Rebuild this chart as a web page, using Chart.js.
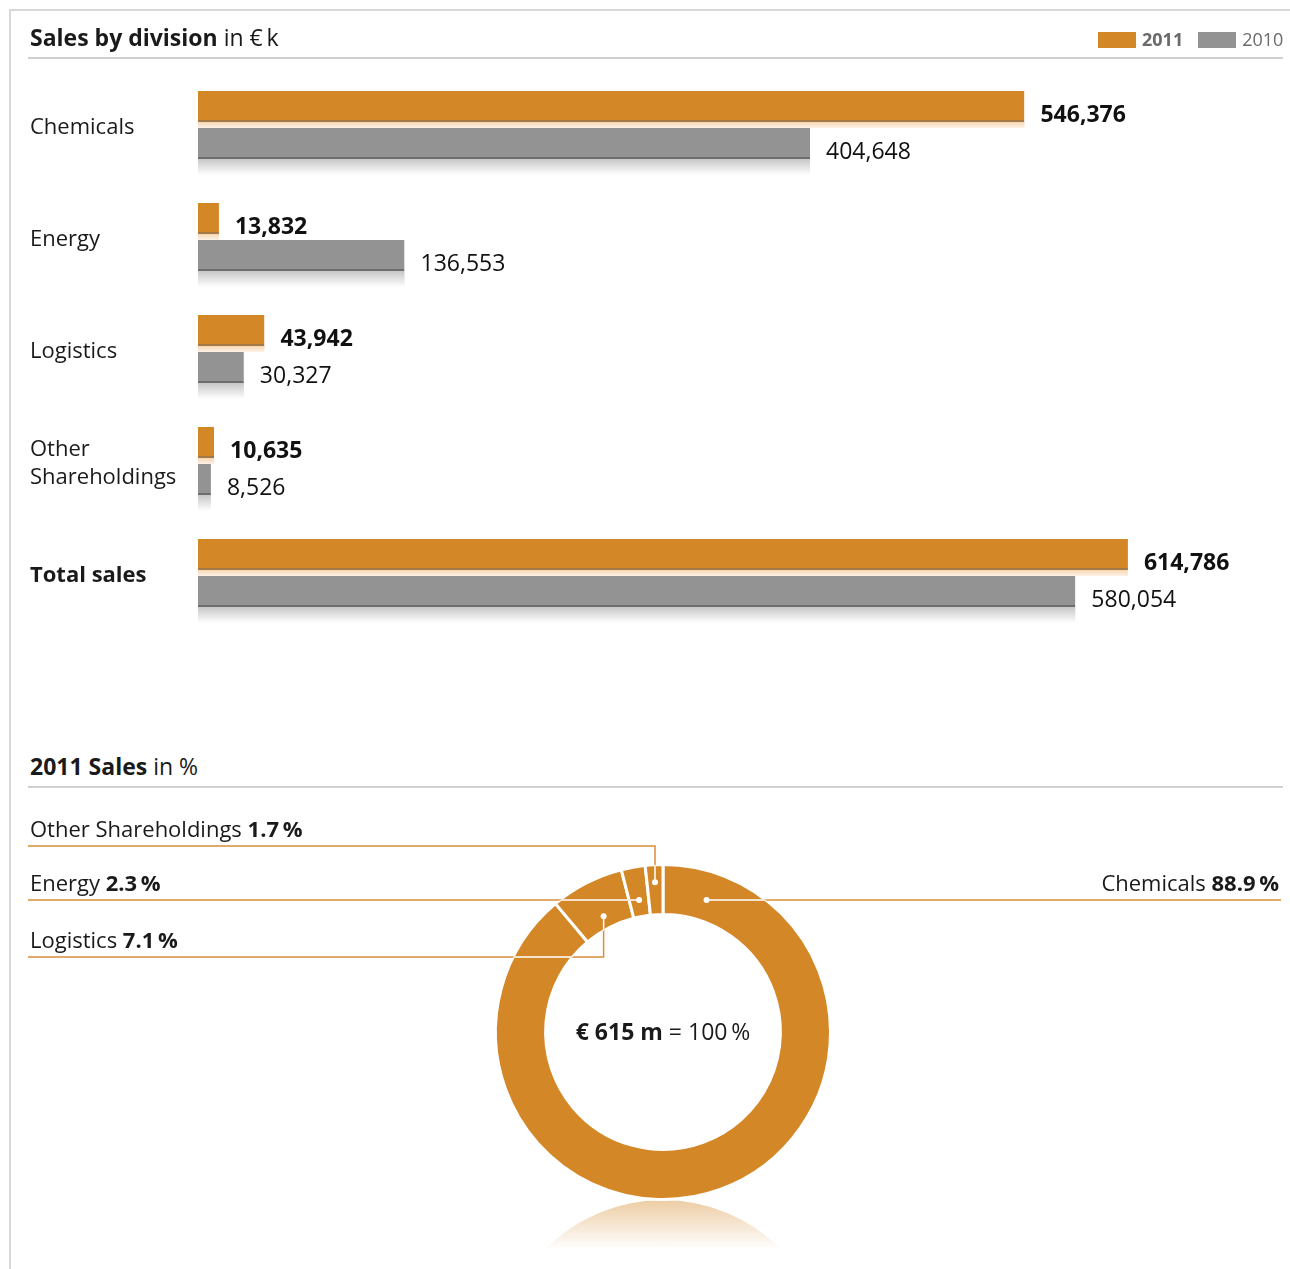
<!DOCTYPE html>
<html>
<head>
<meta charset="utf-8">
<title>Sales by division</title>
<script src="https://cdn.jsdelivr.net/npm/chart.js@4.4.1/dist/chart.umd.min.js"></script>
<style>
  html, body { margin: 0; padding: 0; background: #fff; }
  body {
    width: 1290px; height: 1269px; position: relative; overflow: hidden;
    font-family: "Open Sans", sans-serif; color: #1a1a1a;
  }
  .frame {
    position: absolute; left: 9px; top: 9px; right: 0; bottom: 0;
    border-top: 2px solid #d8d8d8; border-left: 2px solid #d8d8d8;
  }
  .head {
    position: absolute; left: 30px; font-size: 23px; line-height: 30px;
    white-space: nowrap; z-index: 2;
  }
  .rule {
    position: absolute; left: 28px; width: 1255px; height: 0;
    border-top: 2px solid #d0d0d0; z-index: 2;
  }
  .legend {
    position: absolute; top: 26px; left: 1098px; height: 26px;
    font-size: 18px; line-height: 26px; color: #6a6a6a; white-space: nowrap; z-index: 2;
  }
  .legend i {
    display: inline-block; width: 38px; height: 16px; vertical-align: -2px; margin-right: 6px;
  }
  .legend span { margin-right: 15px; }
  canvas { position: absolute; left: 0; }
  #bars { top: 0; }
  #ring { top: 790px; }
</style>
</head>
<body>
<div class="frame"></div>

<div class="head" style="top:22px"><b>Sales by division</b> in €&#8201;k</div>
<div class="legend">
  <i style="background:#d48726"></i><span><b>2011</b></span><i style="background:#939393"></i>2010
</div>
<div class="rule" style="top:57px"></div>

<div class="head" style="top:751px"><b>2011 Sales</b> in %</div>
<div class="rule" style="top:786px"></div>

<canvas id="bars" width="1290" height="650"></canvas>
<canvas id="ring" width="1290" height="479"></canvas>

<script>
// sales in € k
var divisions = ["Chemicals", "Energy", "Logistics", ["Other", "Shareholdings"], "Total sales"];
var sales2011 = [546376, 13832, 43942, 10635, 614786];
var sales2010 = [404648, 136553, 30327, 8526, 580054];

// 2011 split in %
var shareNames = ["Chemicals", "Logistics", "Energy", "Other Shareholdings"];
var sharePct = [88.9, 7.1, 2.3, 1.7];

var ORANGE = "#d48726";
var GREY = "#939393";
var FONT = '"Open Sans", sans-serif';

function fmt(n) {
  return n.toLocaleString("en-US");
}

// reflections under the bars and the value next to each one
var barExtras = {
  id: "barExtras",
  beforeDatasetsDraw: function (chart) {
    var ctx = chart.ctx;
    chart.data.datasets.forEach(function (ds, i) {
      var depth = i === 0 ? 6 : 16;
      var tint = i === 0 ? "240,190,130" : "175,175,175";
      var a0 = i === 0 ? 0.6 : 0.7;
      var a1 = i === 0 ? 0.2 : 0;
      chart.getDatasetMeta(i).data.forEach(function (bar) {
        var p = bar.getProps(["x", "y", "base", "height"]);
        var top = p.y + p.height / 2;
        var g = ctx.createLinearGradient(0, top, 0, top + depth);
        g.addColorStop(0, "rgba(" + tint + "," + a0 + ")");
        g.addColorStop(1, "rgba(" + tint + "," + a1 + ")");
        ctx.fillStyle = g;
        ctx.fillRect(p.base, top, p.x - p.base, depth);
      });
    });
  },
  afterDatasetsDraw: function (chart) {
    var ctx = chart.ctx;
    ctx.save();
    ctx.fillStyle = "#111";
    ctx.textAlign = "left";
    ctx.textBaseline = "alphabetic";
    chart.data.datasets.forEach(function (ds, i) {
      ctx.font = (i === 0 ? "bold " : "") + "23px " + FONT;
      chart.getDatasetMeta(i).data.forEach(function (bar, j) {
        var p = bar.getProps(["x", "y", "height"]);
        ctx.fillText(fmt(ds.data[j]), p.x + 16, p.y + p.height / 2);
      });
    });
    ctx.restore();
  }
};

new Chart(document.getElementById("bars"), {
  type: "bar",
  data: {
    labels: divisions,
    datasets: [
      {
        label: "2011",
        data: sales2011,
        backgroundColor: ORANGE,
        borderColor: "#a47846",
        borderWidth: { top: 0, right: 0, bottom: 2, left: 0 },
        borderSkipped: false,
        categoryPercentage: 0.661,
        barPercentage: 0.838,
      },
      {
        label: "2010",
        data: sales2010,
        backgroundColor: GREY,
        borderColor: "#6e6e6e",
        borderWidth: { top: 0, right: 0, bottom: 2, left: 0 },
        borderSkipped: false,
        categoryPercentage: 0.661,
        barPercentage: 0.838,
      },
    ],
  },
  options: {
    indexAxis: "y",
    responsive: false,
    animation: false,
    layout: { padding: { left: 30, right: 9, top: 69, bottom: 21 } },
    plugins: { legend: { display: false }, tooltip: { enabled: false } },
    scales: {
      x: { display: false, min: 0, max: 716000 },
      y: {
        grid: { display: false },
        border: { display: false },
        afterFit: function (scale) { scale.width = 168; },
        ticks: {
          crossAlign: "far",
          padding: 0,
          labelOffset: 3,
          color: "#1a1a1a",
          font: function (c) {
            return { family: FONT, size: 22, lineHeight: 1.27, weight: c.index === 4 ? "bold" : "normal" };
          },
        },
      },
    },
  },
  plugins: [barExtras],
});

// mirror glow under the ring, leader lines with labels, centre caption
var ringExtras = {
  id: "ringExtras",
  beforeDatasetsDraw: function (chart) {
    var arc = chart.getDatasetMeta(0).data[0];
    if (!arc) return;
    var ctx = chart.ctx;
    var R = arc.outerRadius - 1.5, r = arc.innerRadius + 1.5;
    var top = arc.y + R + 2;
    var cy = top + R;
    ctx.save();
    ctx.beginPath();
    ctx.rect(0, top, chart.width, 50);
    ctx.clip();
    var g = ctx.createLinearGradient(0, top, 0, top + 50);
    g.addColorStop(0, "rgba(212,135,38,0.42)");
    g.addColorStop(1, "rgba(212,135,38,0)");
    ctx.fillStyle = g;
    ctx.beginPath();
    ctx.arc(arc.x, cy, R, 0, Math.PI * 2);
    ctx.arc(arc.x, cy, r, 0, Math.PI * 2, true);
    ctx.fill("evenodd");
    ctx.restore();
  },
  afterDatasetsDraw: function (chart, args, opts) {
    var ctx = chart.ctx;
    var arcs = chart.getDatasetMeta(0).data;
    var cx = arcs[0].x, cy = arcs[0].y;
    var R = arcs[0].outerRadius, r0 = arcs[0].innerRadius;
    var leftX = 28, rightX = chart.width - 9;

    arcs.forEach(function (arc, i) {
      var spec = opts.leaders[i];
      var mid = (arc.startAngle + arc.endAngle) / 2;
      var ly = cy + spec.row;
      var dx, dy;
      if (spec.ringR) {
        dy = ly;
        dx = cx + Math.sqrt(spec.ringR * spec.ringR - spec.row * spec.row) * (spec.side === "right" ? 1 : -1);
      } else if (spec.midR) {
        dx = cx + spec.midR * Math.cos(mid);
        dy = cy + spec.midR * Math.sin(mid);
      } else {
        var rr = spec.row / Math.sin(mid);
        dx = cx + rr * Math.cos(mid);
        dy = ly;
      }
      var endX = spec.side === "right" ? rightX : leftX;

      var path = function () {
        ctx.beginPath();
        ctx.moveTo(dx, dy);
        if (Math.abs(dy - ly) > 0.5) ctx.lineTo(dx, ly);
        ctx.lineTo(endX, ly);
      };

      ctx.save();
      ctx.lineWidth = 1.5;
      ctx.strokeStyle = "#d98f3a";
      path();
      ctx.stroke();
      // white where the line runs over the ring
      ctx.beginPath();
      ctx.arc(cx, cy, R, 0, Math.PI * 2);
      ctx.arc(cx, cy, r0, 0, Math.PI * 2, true);
      ctx.clip("evenodd");
      ctx.strokeStyle = "#fff";
      path();
      ctx.stroke();
      ctx.restore();

      ctx.save();
      ctx.fillStyle = "#fff";
      ctx.beginPath();
      ctx.arc(dx, dy, 3, 0, Math.PI * 2);
      ctx.fill();

      // label above the line
      var name = chart.data.labels[i] + " ";
      var val = sharePct[i].toFixed(1) + "\u2009%";
      ctx.textBaseline = "alphabetic";
      ctx.fillStyle = "#1a1a1a";
      ctx.font = "22px " + FONT;
      var wName = ctx.measureText(name).width;
      ctx.font = "bold 22px " + FONT;
      var wVal = ctx.measureText(val).width;
      var tx = spec.side === "right" ? rightX - 2 - wName - wVal : 30;
      ctx.textAlign = "left";
      ctx.font = "22px " + FONT;
      ctx.fillText(name, tx, ly - 9);
      ctx.font = "bold 22px " + FONT;
      ctx.fillText(val, tx + wName, ly - 9);
      ctx.restore();
    });

    // centre caption: total 2011 sales in € m
    var total = "\u20ac " + Math.round(sales2011[4] / 1000) + " m";
    var rest = " = " + Math.round(sharePct.reduce(function (a, b) { return a + b; }, 0)) + "\u2009%";
    ctx.save();
    ctx.textBaseline = "alphabetic";
    ctx.textAlign = "left";
    ctx.fillStyle = "#1a1a1a";
    ctx.font = "bold 23px " + FONT;
    var w1 = ctx.measureText(total).width;
    ctx.font = "23px " + FONT;
    var w2 = ctx.measureText(rest).width;
    var sx = cx - (w1 + w2) / 2;
    ctx.font = "bold 23px " + FONT;
    ctx.fillText(total, sx, cy + 8);
    ctx.font = "23px " + FONT;
    ctx.fillText(rest, sx + w1, cy + 8);
    ctx.restore();
  }
};

new Chart(document.getElementById("ring"), {
  type: "doughnut",
  data: {
    labels: shareNames,
    datasets: [
      {
        data: sharePct,
        backgroundColor: ORANGE,
        borderColor: "#fff",
        borderWidth: 3,
        hoverOffset: 0,
      },
    ],
  },
  options: {
    responsive: false,
    animation: false,
    cutout: "70.1%",
    layout: { padding: { left: 494, right: 458, top: 73, bottom: 68 } },
    plugins: {
      legend: { display: false },
      tooltip: { enabled: false },
      ringExtras: {
        leaders: [
          { row: -132, side: "right", ringR: 139 },
          { row: -75, side: "left", midR: 130 },
          { row: -132, side: "left" },
          { row: -186, side: "left", midR: 150 },
        ],
      },
    },
  },
  plugins: [ringExtras],
});
</script>
</body>
</html>
